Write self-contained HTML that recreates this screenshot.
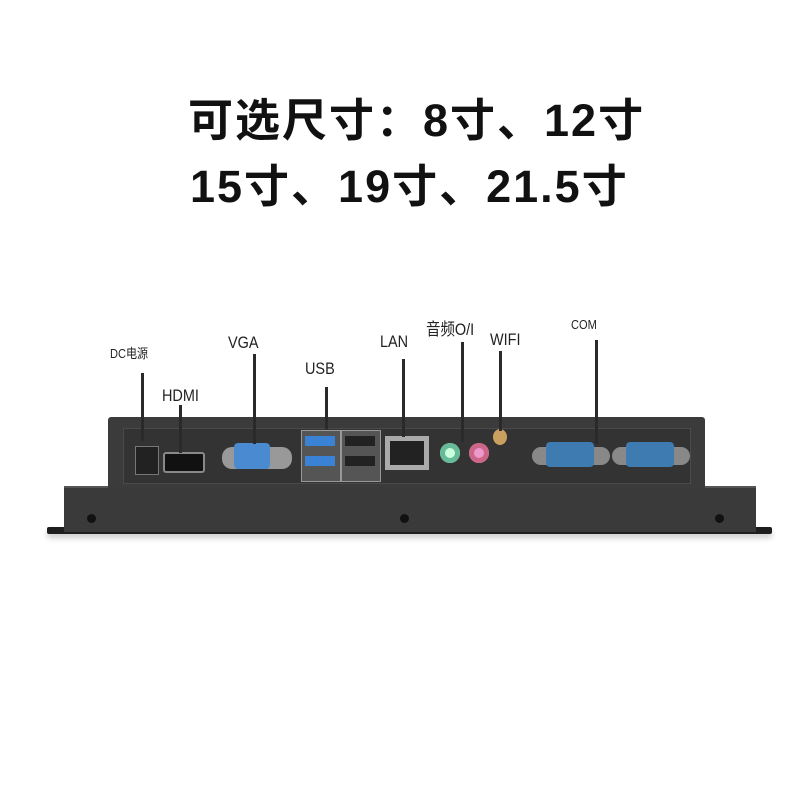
<!DOCTYPE html>
<html><head><meta charset="utf-8"><style>
body{margin:0;width:800px;height:800px;background:#fff;position:relative;overflow:hidden;font-family:"Liberation Sans","Noto Sans CJK SC",sans-serif}
.t{position:absolute;font-weight:bold;font-size:45px;color:#111;font-family:"Liberation Sans","Noto Sans CJK SC",sans-serif;white-space:nowrap}
.l{position:absolute;font-size:17px;color:#222;white-space:nowrap;transform:scaleX(.85);transform-origin:left center}
.v{position:absolute;width:3px;background:#2a2a2a}
.a{position:absolute}
</style></head><body>
<div class="t" style="left:188px;top:84px;letter-spacing:2px">可选尺寸：8寸、12寸</div>
<div class="t" style="left:190px;top:150px;letter-spacing:2px">15寸、19寸、21.5寸</div>

<div class="l" style="left:110px;top:343px;font-size:13px">DC电源</div>
<div class="l" style="left:162px;top:386px">HDMI</div>
<div class="l" style="left:228px;top:333px">VGA</div>
<div class="l" style="left:305px;top:359px">USB</div>
<div class="l" style="left:380px;top:332px">LAN</div>
<div class="l" style="left:426px;top:315px">音频O/I</div>
<div class="l" style="left:490px;top:330px">WIFI</div>
<div class="l" style="left:571px;top:317px;font-size:13px">COM</div>

<!-- base -->
<div class="a" style="left:47px;top:527px;width:725px;height:7px;background:#1e1e1e;border-radius:2px;box-shadow:0 4px 6px rgba(0,0,0,.2)"></div>
<div class="a" style="left:64px;top:486px;width:692px;height:44px;background:#3a3a3a;border-top:2px solid #555"></div>
<div class="a" style="left:87px;top:514px;width:9px;height:9px;border-radius:50%;background:#111"></div>
<div class="a" style="left:400px;top:514px;width:9px;height:9px;border-radius:50%;background:#111"></div>
<div class="a" style="left:715px;top:514px;width:9px;height:9px;border-radius:50%;background:#111"></div>
<!-- upper box -->
<div class="a" style="left:108px;top:417px;width:597px;height:71px;background:#3b3b3b;border-radius:3px 3px 0 0"></div>
<div class="a" style="left:123px;top:428px;width:566px;height:54px;background:#333;border:1px solid #4a4a4a"></div>
<!-- ports -->
<div class="a" style="left:135px;top:446px;width:22px;height:27px;background:#222;border:1px solid #777"></div>
<div class="a" style="left:163px;top:452px;width:38px;height:17px;background:#111;border:2px solid #888;border-radius:3px"></div>
<div class="a" style="left:222px;top:447px;width:70px;height:22px;background:#999;border-radius:10px"></div>
<div class="a" style="left:234px;top:443px;width:36px;height:26px;background:#4a8ad0;border-radius:4px"></div>
<div class="a" style="left:301px;top:430px;width:38px;height:50px;background:#555;border:1px solid #999"></div>
<div class="a" style="left:305px;top:436px;width:30px;height:10px;background:#3a82d6"></div>
<div class="a" style="left:305px;top:456px;width:30px;height:10px;background:#3a82d6"></div>
<div class="a" style="left:341px;top:430px;width:38px;height:50px;background:#555;border:1px solid #999"></div>
<div class="a" style="left:345px;top:436px;width:30px;height:10px;background:#222"></div>
<div class="a" style="left:345px;top:456px;width:30px;height:10px;background:#222"></div>
<div class="a" style="left:385px;top:436px;width:44px;height:34px;background:#aaa"></div>
<div class="a" style="left:390px;top:441px;width:34px;height:24px;background:#222"></div>
<div class="a" style="left:440px;top:443px;width:20px;height:20px;border-radius:50%;background:#cfd;box-shadow:inset 0 0 0 5px #6b9"></div>
<div class="a" style="left:469px;top:443px;width:20px;height:20px;border-radius:50%;background:#e9c;box-shadow:inset 0 0 0 5px #c68"></div>
<div class="a" style="left:493px;top:429px;width:14px;height:16px;border-radius:50%;background:#c9a060"></div>
<div class="a" style="left:532px;top:447px;width:78px;height:18px;background:#888;border-radius:9px"></div>
<div class="a" style="left:546px;top:442px;width:48px;height:25px;background:#3d7bb0;border-radius:4px"></div>
<div class="a" style="left:612px;top:447px;width:78px;height:18px;background:#888;border-radius:9px"></div>
<div class="a" style="left:626px;top:442px;width:48px;height:25px;background:#3d7bb0;border-radius:4px"></div>
<!-- leader lines -->
<div class="v" style="left:141px;top:373px;height:68px"></div>
<div class="v" style="left:179px;top:405px;height:48px"></div>
<div class="v" style="left:253px;top:354px;height:90px"></div>
<div class="v" style="left:325px;top:387px;height:42px"></div>
<div class="v" style="left:402px;top:359px;height:78px"></div>
<div class="v" style="left:461px;top:342px;height:100px"></div>
<div class="v" style="left:499px;top:351px;height:80px"></div>
<div class="v" style="left:595px;top:340px;height:104px"></div>
</body></html>
